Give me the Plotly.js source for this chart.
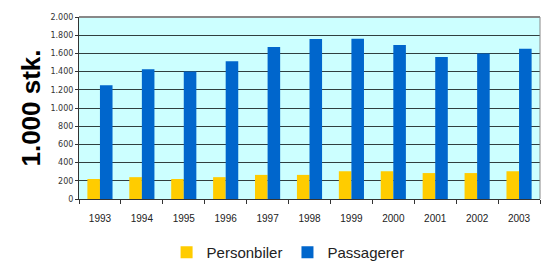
<!DOCTYPE html>
<html>
<head>
<meta charset="utf-8">
<script src="https://cdn.plot.ly/plotly-3.0.1.min.js"></script>
<style>html,body{margin:0;padding:0;background:#fff;}#chart{width:541px;height:269px;}</style>
</head>
<body>
<div id="chart"></div>
<script>
const years = ["1993","1994","1995","1996","1997","1998","1999","2000","2001","2002","2003"];
const personbiler = [220, 240, 220, 240, 265, 265, 305, 305, 285, 285, 305];
const passagerer = [1250, 1425, 1400, 1515, 1670, 1758, 1760, 1692, 1560, 1600, 1650];
const yTickVals = [0, 200, 400, 600, 800, 1000, 1200, 1400, 1600, 1800, 2000];
const yTickText = ["0", "200", "400", "600", "800", "1.000", "1.200", "1.400", "1.600", "1.800", "2.000"];

const traces = [
  {type: "bar", name: "Personbiler", x: years, y: personbiler, marker: {color: "#FFCC00", line: {width: 0}}},
  {type: "bar", name: "Passagerer", x: years, y: passagerer, marker: {color: "#0066CC", line: {width: 0}}}
];

const layout = {
  width: 541, height: 269,
  margin: {l: 79, r: 1, t: 17, b: 70},
  paper_bgcolor: "#FFFFFF",
  plot_bgcolor: "#CCFFFF",
  barmode: "group",
  bargap: 0.4,
  bargroupgap: 0,
  font: {family: "Arial, Liberation Sans, sans-serif", color: "#000"},
  showlegend: true,
  legend: {
    orientation: "h", x: 0.19, xanchor: "left", xref: "paper",
    y: 0, yanchor: "bottom", yref: "container",
    font: {size: 15, family: "Arial, Liberation Sans, sans-serif", color: "#222"},
    itemwidth: 30, bgcolor: "rgba(0,0,0,0)"
  },
  xaxis: {
    type: "category",
    tickson: "boundaries",
    ticks: "outside", ticklen: 4, tickcolor: "#333", tickwidth: 1,
    showline: true, linecolor: "#333", linewidth: 1,
    showgrid: false,
    ticklabelstandoff: 10,
    tickfont: {size: 10, family: "Arial, Liberation Sans, sans-serif", color: "#222"},
    automargin: false
  },
  yaxis: {
    range: [0, 2000],
    tickvals: yTickVals, ticktext: yTickText,
    ticks: "outside", ticklen: 3, tickcolor: "#333",
    showline: true, linecolor: "#333", linewidth: 1,
    showgrid: true, gridcolor: "#2F3F3F", gridwidth: 1,
    zeroline: false,
    tickfont: {size: 8, family: "DejaVu Sans", color: "#333"},
    title: {text: "<b>1.000 stk.</b>", font: {size: 26, family: "Arial, Liberation Sans, sans-serif", color: "#000"}, standoff: 2},
    automargin: true
  },
  shapes: [
    {type: "line", xref: "paper", yref: "paper", x0: 0, x1: 1, y0: 1, y1: 1, line: {color: "#888", width: 2}},
    {type: "line", xref: "paper", yref: "paper", x0: 1, x1: 1, y0: 0, y1: 1, line: {color: "#888", width: 1}}
  ]
};

Plotly.newPlot("chart", traces, layout, {displayModeBar: false, staticPlot: true});
</script>
</body>
</html>
